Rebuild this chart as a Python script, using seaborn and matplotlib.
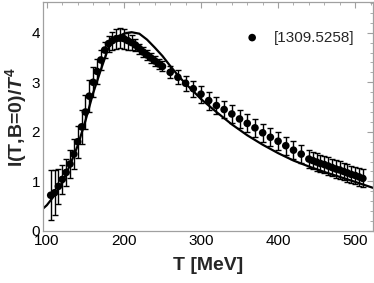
import numpy as np
import pandas as pd
import matplotlib
matplotlib.use("Agg")
import matplotlib.pyplot as plt
from matplotlib.ticker import MultipleLocator
import seaborn as sns

# Lattice data [1309.5258]
T_data = [105, 110, 115, 120, 125, 130, 135, 140, 145, 150, 155, 160, 165, 170,
          175, 180, 185, 190, 195, 200, 205, 210, 215, 220, 225, 230, 235, 240,
          245, 250, 260, 270, 280, 290, 300, 310, 320, 330, 340, 350, 360, 370,
          380, 390, 400, 410, 420, 430, 440, 445, 450, 455, 460, 465, 470, 475,
          480, 485, 490, 495, 500, 505, 510]
I_data = [0.72, 0.77, 0.90, 1.04, 1.18, 1.35, 1.55, 1.80, 2.10, 2.40, 2.72, 3.00,
          3.22, 3.45, 3.65, 3.78, 3.84, 3.88, 3.89, 3.88, 3.84, 3.80, 3.75, 3.68,
          3.61, 3.55, 3.49, 3.43, 3.37, 3.32, 3.20, 3.10, 2.98, 2.87, 2.76, 2.63,
          2.53, 2.45, 2.36, 2.26, 2.17, 2.08, 1.98, 1.89, 1.81, 1.72, 1.63, 1.55,
          1.45, 1.42, 1.39, 1.36, 1.34, 1.31, 1.28, 1.25, 1.23, 1.20, 1.17, 1.14,
          1.12, 1.09, 1.06]
I_err = [0.50, 0.45, 0.35, 0.30, 0.28, 0.28, 0.30, 0.32, 0.35, 0.35, 0.32, 0.30,
         0.25, 0.20, 0.16, 0.16, 0.18, 0.20, 0.20, 0.20, 0.18, 0.15, 0.12, 0.10,
         0.10, 0.10, 0.10, 0.10, 0.10, 0.10, 0.12, 0.14, 0.15, 0.16, 0.17, 0.18,
         0.18, 0.18, 0.18, 0.18, 0.18, 0.18, 0.18, 0.18, 0.18, 0.18, 0.18, 0.18,
         0.18, 0.18, 0.18, 0.18, 0.18, 0.18, 0.18, 0.18, 0.18, 0.18, 0.18, 0.18,
         0.18, 0.18, 0.18]

# Model curve
T_model = [95, 100, 110, 120, 130, 140, 150, 160, 170, 180, 190, 200, 210, 220,
           230, 240, 250, 260, 270, 280, 290, 300, 320, 340, 360, 380, 400, 420,
           440, 460, 480, 500, 525]
I_model = [0.45, 0.52, 0.72, 0.97, 1.33, 1.72, 2.22, 2.78, 3.25, 3.70, 3.90, 3.98,
           4.01, 3.98, 3.86, 3.70, 3.53, 3.33, 3.14, 2.97, 2.82, 2.66, 2.40, 2.15,
           1.93, 1.74, 1.57, 1.42, 1.30, 1.19, 1.09, 0.99, 0.86]

legend_label = "[1309.5258]"

sns.set_theme(style="white")
plt.rcParams['font.family'] = ['Liberation Sans', 'DejaVu Sans']
plt.rcParams['mathtext.fontset'] = 'custom'
plt.rcParams['mathtext.it'] = 'Liberation Sans:italic:bold'
plt.rcParams['mathtext.rm'] = 'Liberation Sans:bold'
plt.rcParams['mathtext.bf'] = 'Liberation Sans:bold'

fig = plt.figure(figsize=(3.74, 2.83), dpi=100)
ax = fig.add_axes([0.115, 0.184, 0.882, 0.809])

df_model = pd.DataFrame({"T": T_model, "I": I_model})
df_data = pd.DataFrame({"T": T_data, "I": I_data, "err": I_err})

sns.lineplot(data=df_model, x="T", y="I", ax=ax, color="black", lw=1.6, zorder=2)
ax.errorbar(df_data["T"], df_data["I"], yerr=df_data["err"], fmt="none",
            ecolor="black", elinewidth=1.0, capsize=2.0, capthick=1.0, zorder=3)
sns.scatterplot(data=df_data, x="T", y="I", ax=ax, color="black", s=30,
                edgecolor="none", label=legend_label, zorder=4)

ax.set_xlim(95, 523)
ax.set_ylim(0, 4.62)
ax.xaxis.set_major_locator(MultipleLocator(100))
ax.xaxis.set_minor_locator(MultipleLocator(20))
ax.yaxis.set_major_locator(MultipleLocator(1))
ax.yaxis.set_minor_locator(MultipleLocator(0.2))

spine_col = "#a0a0a0"
for s in ax.spines.values():
    s.set_color(spine_col)
    s.set_linewidth(0.9)
ax.tick_params(which="both", direction="in", top=True, right=True,
               color=spine_col, labelsize=11, labelcolor="black", pad=2)
ax.tick_params(which="major", length=4, width=0.8)
ax.tick_params(which="minor", length=2, width=0.6)

ax.set_xlabel("T [MeV]", fontsize=14, fontweight="bold", labelpad=7)
ax.set_ylabel(r"I(T,B=0)/$T^4$", fontsize=14, fontweight="bold", labelpad=2)

leg = ax.legend(loc="upper right", bbox_to_anchor=(0.985, 0.935), frameon=False,
                fontsize=11, handletextpad=0.4, markerscale=1.0)

fig.savefig("out.png", dpi=100)
